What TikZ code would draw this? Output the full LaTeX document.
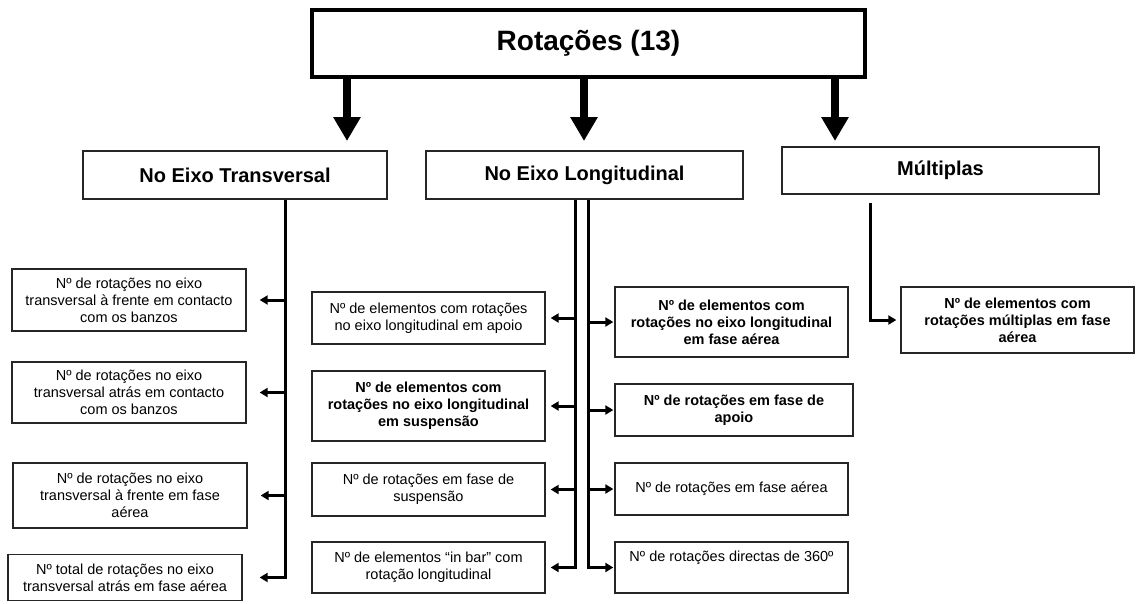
\documentclass[tikz,border=0pt]{standalone}
\usepackage{fontspec}
\setmainfont{Liberation Sans}
\usetikzlibrary{arrows.meta,calc}

\begin{document}
\begin{tikzpicture}[x=1pt,y=-1pt,
  box/.style={draw=black!85,line width=1.3pt,align=center,inner sep=0pt,font=\fontsize{14.5}{17}\selectfont},
  boldbox/.style={box,font=\fontsize{14.5}{17}\selectfont\bfseries},
  head/.style={box,minimum height=48pt,font=\fontsize{20}{24}\selectfont\bfseries},
  bigarrow/.style={line width=8pt,-{Triangle[length=24pt,width=26pt]}},
  branch/.style={line width=3pt,line join=miter,-{Triangle[length=8pt,width=9pt]}}]
\useasboundingbox (0,0) rectangle (1136,603);
% ---- title ----
\node[draw,line width=3.5pt,inner sep=0pt,minimum width=553pt,minimum height=67pt,
  font=\fontsize{28}{34}\selectfont\bfseries] (rot) at (588.5,43.5) {Rotações (13)};
% ---- three groups ----
\node[head,minimum width=304pt] (trans) at (235,175) {No Eixo Transversal};
\node[head,minimum width=317pt] (long) at (584.5,175) {No Eixo Longitudinal};
\node[head,minimum width=317pt,minimum height=47pt] (mult) at (940.5,170.5) {Múltiplas};
% block arrows (tips stop short of the boxes)
\coordinate (a1) at (347,141);
\coordinate (a2) at (584,141);
\coordinate (a3) at (835,141);
\foreach \a in {a1,a2,a3} {\draw[bigarrow] (rot.south -| \a) -- (\a);}
% ---- transversal items ----
\node[box,minimum width=234pt,minimum height=62pt] (t1) at (129,300)
  {Nº de rotações no eixo\\transversal à frente em contacto\\com os banzos};
\node[box,minimum width=234pt,minimum height=61pt] (t2) at (129,392.5)
  {Nº de rotações no eixo\\transversal atrás em contacto\\com os banzos};
\node[box,minimum width=234pt,minimum height=65pt] (t3) at (130,495.5)
  {Nº de rotações no eixo\\transversal à frente em fase\\aérea};
\node[box,minimum width=234pt,inner ysep=9pt,anchor=north] (t4) at (125,554)
  {Nº total de rotações no eixo\\transversal atrás em fase aérea};
\coordinate (tbus) at (285,199);
\foreach \n in {t1,t2,t3} {\draw[branch] (tbus |- \n.east) -- ([xshift=13pt]\n.east);}
\draw[branch] (trans.south -| tbus) -- (tbus |- t4.east) -- ([xshift=17pt]t4.east);
% ---- longitudinal items, left column ----
\node[box,minimum width=233pt,minimum height=52pt] (l1) at (428.5,318)
  {Nº de elementos com rotações\\no eixo longitudinal em apoio};
\node[boldbox,minimum width=233pt,minimum height=70pt] (l2) at (428.5,406)
  {Nº de elementos com\\rotações no eixo longitudinal\\em suspensão};
\node[box,minimum width=233pt,minimum height=53pt] (l3) at (428.5,489.5)
  {Nº de rotações em fase de\\suspensão};
\node[box,minimum width=233pt,minimum height=51pt] (l4) at (428.5,567.5)
  {Nº de elementos “in bar” com\\rotação longitudinal};
% ---- longitudinal items, right column ----
\node[boldbox,minimum width=233pt,minimum height=70pt] (r1) at (731.5,322)
  {Nº de elementos com\\rotações no eixo longitudinal\\em fase aérea};
\node[boldbox,minimum width=238pt,minimum height=52pt] (r2) at (734,410)
  {Nº de rotações em fase de\\apoio};
\node[box,minimum width=233pt,minimum height=52pt] (r3) at (731.5,489)
  {Nº de rotações em fase aérea};
\node[box,minimum width=233pt,minimum height=51pt] (r4) at (731.5,567.5)
  {Nº de rotações directas de 360º\\\strut};
\coordinate (lbl) at (575,199);
\coordinate (lbr) at (588,199);
\foreach \n in {l1,l2,l3} {\draw[branch] (lbl |- \n.east) -- ([xshift=5pt]\n.east);}
\draw[branch] (long.south -| lbl) -- (lbl |- l4.east) -- ([xshift=5pt]l4.east);
\foreach \n in {r1,r2,r3} {\draw[branch] (lbr |- \n.west) -- ([xshift=-1pt]\n.west);}
\draw[branch] (long.south -| lbr) -- (lbr |- r4.west) -- ([xshift=-1pt]r4.west);
% ---- multiple ----
\node[boldbox,minimum width=233pt,minimum height=66pt] (m1) at (1017.5,320)
  {Nº de elementos com\\rotações múltiplas em fase\\aérea};
\coordinate (mbus) at (870,203);
\draw[branch] (mbus) -- (mbus |- m1.west) -- ([xshift=-4pt]m1.west);
\end{tikzpicture}
\end{document}
